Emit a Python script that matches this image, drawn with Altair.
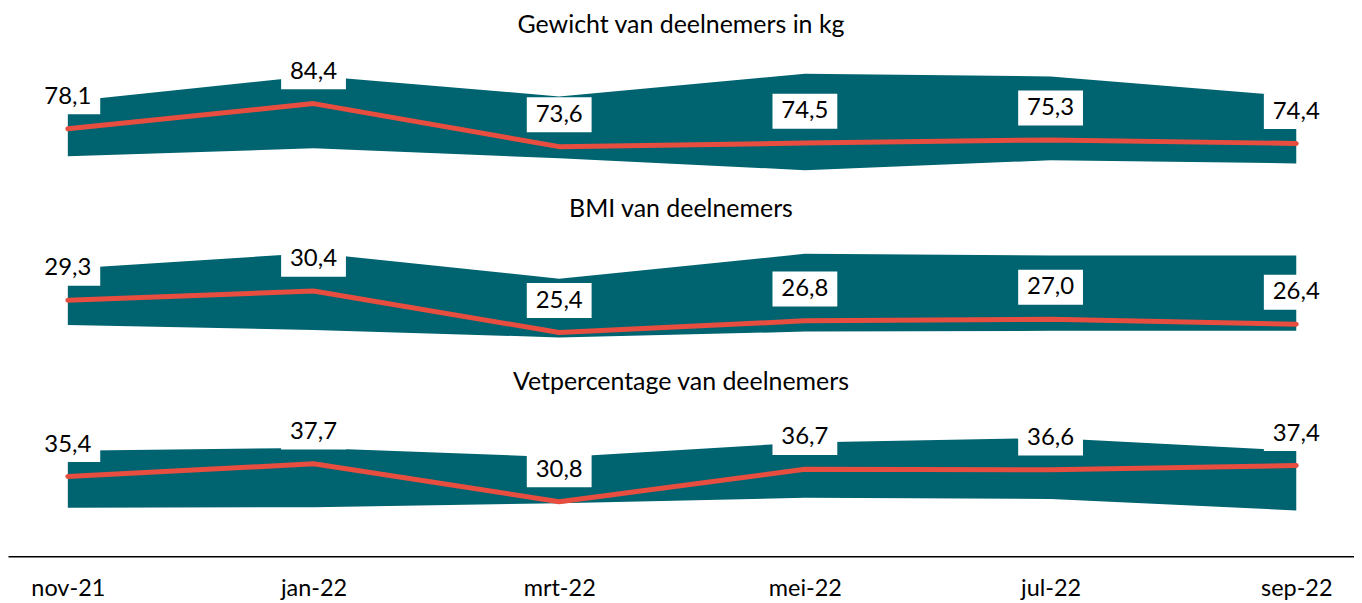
import json
import altair as alt
import pandas as pd

months = ["nov-21", "jan-22", "mrt-22", "mei-22", "jul-22", "sep-22"]
titles = ["Gewicht van deelnemers in kg", "BMI van deelnemers", "Vetpercentage van deelnemers"]

gewicht = [78.1, 84.4, 73.6, 74.5, 75.3, 74.4]
gewicht_hoog = [84.9, 91.4, 86.2, 91.9, 91.2, 86.2]
gewicht_laag = [71.2, 73.2, 70.7, 67.7, 70.2, 69.4]

bmi = [29.3, 30.4, 25.4, 26.8, 27.0, 26.4]
bmi_hoog = [33.1, 35.0, 31.9, 34.9, 34.7, 34.7]
bmi_laag = [26.3, 25.7, 24.8, 25.5, 25.6, 25.6]

vet = [35.4, 37.7, 30.8, 36.7, 36.6, 37.4]
vet_hoog = [40.1, 40.6, 38.9, 41.6, 42.4, 40.1]
vet_laag = [29.7, 29.8, 30.5, 31.5, 31.3, 29.2]

TEAL = "#006370"
RED = "#E84E3F"
FONT = "Lato"
XDOM = [-0.2435, 5.235]
BOX = "M-1,-0.54L1,-0.54L1,0.54L-1,0.54Z"


def panel(title, mid, hi, lo, ydom, height, show_axis):
    df = pd.DataFrame({
        "i": list(range(len(months))),
        "maand": months,
        "mid": mid,
        "hi": hi,
        "lo": lo,
        "label": [f"{v:.1f}".replace(".", ",") for v in mid],
    })
    if show_axis:
        axis = alt.Axis(
            values=list(range(len(months))),
            labelExpr=json.dumps(months) + "[datum.value]",
            domainColor="black", domainWidth=1.5, ticks=False, grid=False,
            labelFont=FONT, labelFontSize=23.5, labelColor="black",
            labelPadding=20, title=None,
        )
    else:
        axis = None
    xsc = alt.Scale(domain=XDOM, nice=False, zero=False)
    ysc = alt.Scale(domain=ydom, nice=False, zero=False)
    x = alt.X("i:Q", scale=xsc, axis=axis)
    base = alt.Chart(df)
    band = base.mark_area(color=TEAL, opacity=1).encode(
        x=x, y=alt.Y("hi:Q", scale=ysc, axis=None), y2="lo:Q")
    line = base.mark_line(color=RED, strokeWidth=5, strokeCap="round",
                          strokeJoin="round").encode(
        x=x, y=alt.Y("mid:Q", scale=ysc, axis=None))
    box = base.mark_point(shape=BOX, size=4225, filled=True, color="white",
                          opacity=1, strokeWidth=0, yOffset=-32).encode(
        x=x, y=alt.Y("mid:Q", scale=ysc, axis=None))
    text = base.mark_text(font=FONT, fontSize=24, color="black",
                          baseline="middle", yOffset=-32).encode(
        x=x, y=alt.Y("mid:Q", scale=ysc, axis=None), text="label:N")
    return alt.layer(band, line, box, text).properties(
        width=1350, height=height,
        title=alt.TitleParams(title, font=FONT, fontSize=25, fontWeight="normal",
                              color="black", anchor="middle", offset=9),
    )


p1 = panel(titles[0], gewicht, gewicht_hoog, gewicht_laag, [57.4, 98.65], 165, False)
p2 = panel(titles[1], bmi, bmi_hoog, bmi_laag, [19.20, 37.63], 153, False)
p3 = panel(titles[2], vet, vet_hoog, vet_laag, [20.85, 48.66], 153, True)

chart = alt.vconcat(p1, p2, p3, spacing=20, bounds="flush").properties(
    padding={"left": 0, "right": 0, "top": 4, "bottom": 0}
).configure_view(stroke=None)

chart.save("out.html", embed_options={"renderer": "svg", "actions": False})
